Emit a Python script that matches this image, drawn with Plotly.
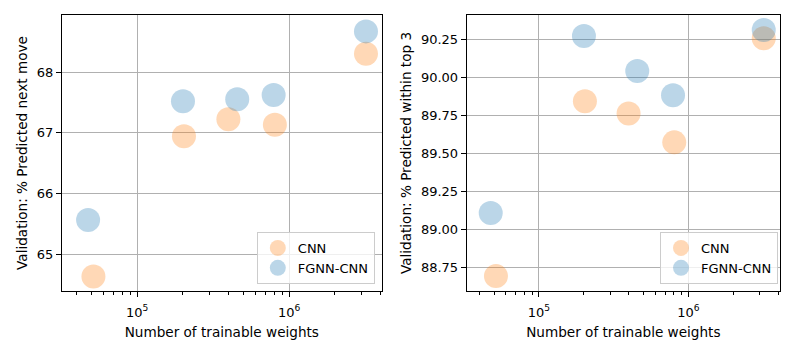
import plotly.graph_objects as go

# trainable weights per model
cnn_weights = [51500, 203000, 398000, 805000, 3200000]
fgnn_weights = [47500, 200000, 455000, 790000, 3200000]

# validation accuracy, next move
cnn_top1 = [64.63, 66.94, 67.22, 67.13, 68.30]
fgnn_top1 = [65.56, 67.52, 67.55, 67.62, 68.67]

# validation accuracy, within top 3
cnn_top3 = [88.69, 89.84, 89.76, 89.57, 90.255]
fgnn_top3 = [89.105, 90.27, 90.04, 89.88, 90.31]

# log-axis minor tick positions
minor_ticks = [m * 10 ** e for e in (4, 5, 6) for m in range(2, 10)]

orange = "rgba(255,127,14,0.3)"
blue = "rgba(31,119,180,0.3)"
font = "DejaVu Sans"

fig = go.Figure()

panels = [
    ("x", "y", "legend", cnn_top1, fgnn_top1),
    ("x2", "y2", "legend2", cnn_top3, fgnn_top3),
]
for xa, ya, lg, cnn_y, fgnn_y in panels:
    fig.add_trace(go.Scatter(
        x=cnn_weights, y=cnn_y, mode="markers", name="CNN",
        marker=dict(size=24, color=orange, line=dict(width=0)),
        xaxis=xa, yaxis=ya, legend=lg,
    ))
    fig.add_trace(go.Scatter(
        x=fgnn_weights, y=fgnn_y, mode="markers", name="FGNN-CNN",
        marker=dict(size=24, color=blue, line=dict(width=0)),
        xaxis=xa, yaxis=ya, legend=lg,
    ))

title_font = dict(family=font, size=13.6, color="black")

xcommon = dict(
    type="log", tickvals=[1e5, 1e6], ticktext=["10<sup>5</sup>", "10<sup>6</sup>"],
    showline=True, linecolor="black", linewidth=1, mirror=True,
    ticks="outside", ticklen=5, tickcolor="black", automargin=False,
    ticklabelstandoff=4,
    minor=dict(tickvals=minor_ticks, ticks="outside", ticklen=3,
               tickcolor="black", showgrid=False),
    showgrid=True, gridcolor="#b0b0b0", gridwidth=0.8, zeroline=False,
    title=dict(text="Number of trainable weights", standoff=8, font=title_font),
)
ycommon = dict(
    showline=True, linecolor="black", linewidth=1, mirror=True,
    ticks="outside", ticklen=5, tickcolor="black", automargin=False,
    showgrid=True, gridcolor="#b0b0b0", gridwidth=0.8, zeroline=False,
)

legend_style = dict(
    bgcolor="rgba(255,255,255,0.8)", bordercolor="#cccccc", borderwidth=1,
    xanchor="right", yanchor="bottom", font=dict(size=13),
    itemsizing="trace", tracegroupgap=4,
)

# the page body adds an 8px offset, so domains are shifted to compensate
fig.update_layout(
    width=800, height=350,
    margin=dict(l=0, r=0, t=0, b=0),
    paper_bgcolor="white", plot_bgcolor="white",
    font=dict(family=font, size=13, color="black"),
    xaxis=dict(domain=[0.0675, 0.467], range=[4.505, 6.608], anchor="y", **xcommon),
    yaxis=dict(domain=[0.1914, 0.98], range=[64.39, 68.94], anchor="x",
               tickvals=[65, 66, 67, 68],
               title=dict(text="Validation: % Predicted next move", standoff=6,
                          font=title_font), **ycommon),
    xaxis2=dict(domain=[0.5734, 0.965], range=[4.516, 6.614], anchor="y2", **xcommon),
    yaxis2=dict(domain=[0.1914, 0.98], range=[88.592, 90.408], anchor="x2",
                tickvals=[88.75, 89.0, 89.25, 89.5, 89.75, 90.0, 90.25], tickformat=".2f",
                title=dict(text="Validation: % Predicted within top 3", standoff=6,
                           font=title_font), **ycommon),
    legend=dict(x=0.4585, y=0.2114, **legend_style),
    legend2=dict(x=0.9625, y=0.2114, **legend_style),
)

fig.write_html("out.html")
